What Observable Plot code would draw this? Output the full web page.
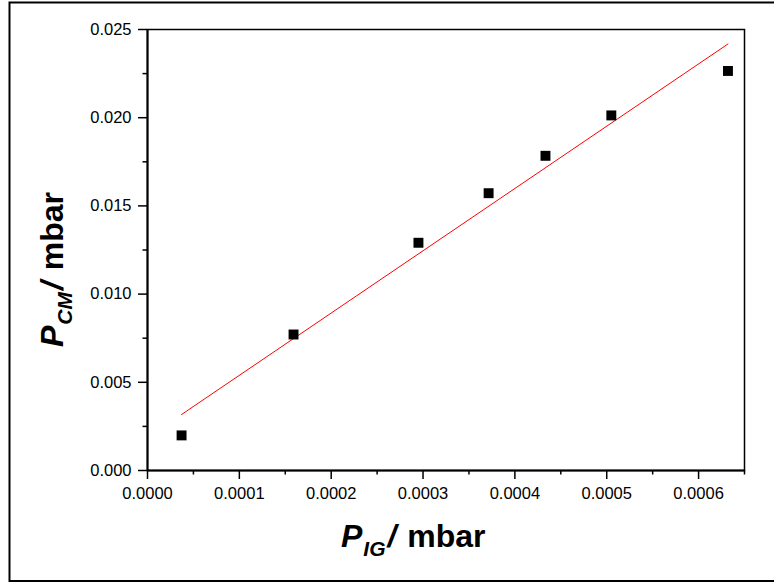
<!DOCTYPE html>
<html>
<head>
<meta charset="utf-8">
<script src="https://cdn.jsdelivr.net/npm/d3@7"></script>
<script src="https://cdn.jsdelivr.net/npm/@observablehq/plot@0.6"></script>
<style>
  html, body { margin: 0; padding: 0; background: #fff; overflow: hidden; }
  svg { display: block; }
</style>
</head>
<body>
<div id="chart"></div>
<script>
// Data
const pIG = [0.0000371, 0.000159, 0.000295, 0.0003714, 0.0004333, 0.000505, 0.000632];
const pCM = [0.00199, 0.00771, 0.01291, 0.01572, 0.01784, 0.02013, 0.02265];

// Tick values
const xTicks = [0, 0.0001, 0.0002, 0.0003, 0.0004, 0.0005, 0.0006];
const xMinorTicks = [0.00005, 0.00015, 0.00025, 0.00035, 0.00045, 0.00055, 0.00065];
const yTicks = [0, 0.005, 0.010, 0.015, 0.020, 0.025];
const yMinorTicks = [0.0025, 0.0075, 0.0125, 0.0175, 0.0225];

// Axis title pieces
const xTitle = {main: "P", sub: "IG", slash: "/", unit: " mbar"};
const yTitle = {main: "P", sub: "CM", slash: "/", unit: " mbar"};

const data = pIG.map((x, i) => ({x, y: pCM[i]}));

const FONT = "'Liberation Sans', Arial, Helvetica, sans-serif";

const svg = Plot.plot({
  width: 774,
  height: 583,
  marginLeft: 147,
  marginTop: 29,
  marginRight: 30,
  marginBottom: 113,
  style: {fontFamily: FONT, fontSize: "16.5px", color: "black", background: "white"},
  x: {domain: [0, 0.00065]},
  y: {domain: [0, 0.025]},
  marks: [
    Plot.frame({stroke: "black", strokeWidth: 1.5}),
    Plot.axisX({ticks: xTicks, tickSize: 9, tickPadding: 8, strokeWidth: 1.5,
      tickFormat: d3.format(".4f"), label: null, fontSize: 16.5, fill: "black"}),
    Plot.axisX({ticks: xMinorTicks, tickSize: 4.5, strokeWidth: 1.5, text: null, label: null}),
    Plot.axisY({ticks: yTicks, tickSize: 9, tickPadding: 7, strokeWidth: 1.5,
      tickFormat: d3.format(".3f"), label: null, fontSize: 16.5, fill: "black"}),
    Plot.axisY({ticks: yMinorTicks, tickSize: 4.5, strokeWidth: 1.5, text: null, label: null}),
    Plot.ruleX([0], {stroke: "black", strokeWidth: 2}),
    Plot.ruleY([0], {stroke: "black", strokeWidth: 2}),
    Plot.linearRegressionY(data, {x: "x", y: "y", stroke: "#ff0000", strokeWidth: 1, ci: 0}),
    Plot.dot(data, {x: "x", y: "y", symbol: "square", r: 5.6, fill: "black", stroke: "none"})
  ]
});

const root = d3.select(svg);

// Outer border (right edge lies outside the picture)
root.append("rect")
  .attr("x", 9.5).attr("y", 2.5)
  .attr("width", 800).attr("height", 578.5)
  .attr("fill", "none").attr("stroke", "black").attr("stroke-width", 2);

function addTitle(g, t) {
  const text = g.append("text")
    .attr("text-anchor", "start")
    .attr("font-family", FONT)
    .attr("font-weight", "bold")
    .attr("font-size", 32)
    .attr("fill", "black");
  text.append("tspan").attr("font-style", "italic").text(t.main);
  text.append("tspan").attr("font-style", "italic").attr("font-size", 21).attr("dx", 1).attr("dy", 9).text(t.sub);
  text.append("tspan").attr("font-style", "italic").attr("dx", 2).attr("dy", -9).text(t.slash);
  text.append("tspan").attr("dx", 2).text(t.unit);
  return text;
}

// X title
addTitle(root.append("g").attr("transform", "translate(341,547)"), xTitle);
// Y title
addTitle(root.append("g").attr("transform", "translate(63,347) rotate(-90)"), yTitle);

document.getElementById("chart").appendChild(svg);
</script>
</body>
</html>
